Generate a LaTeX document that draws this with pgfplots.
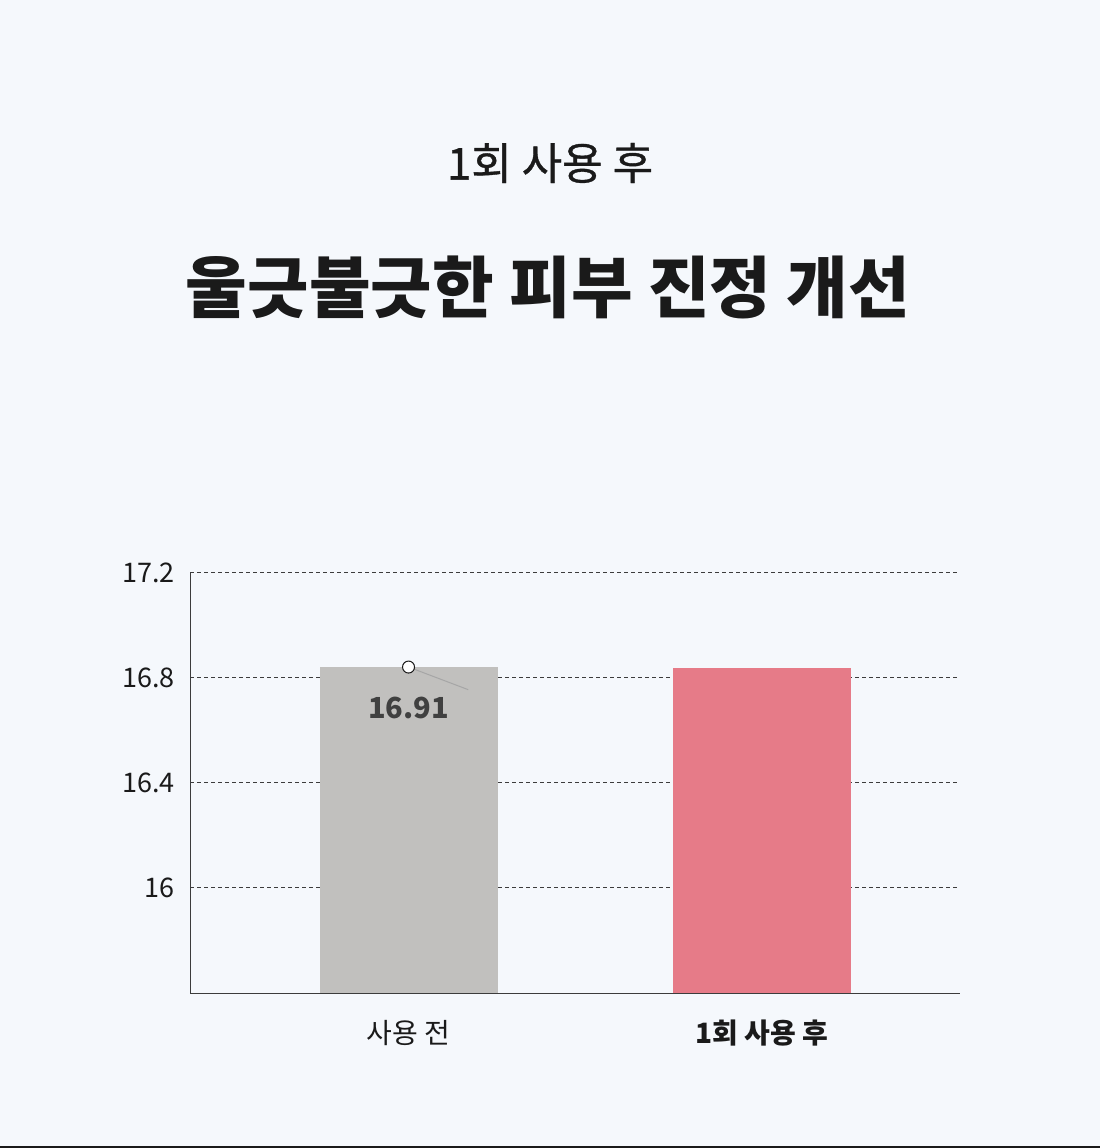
\documentclass[border=0pt]{standalone}
\usepackage{fontspec}
\setmainfont{Noto Sans CJK KR}
\usepackage{pgfplots}
\pgfplotsset{compat=1.18}
\definecolor{bgc}{HTML}{F5F8FC}
\definecolor{barA}{HTML}{C1C0BE}
\definecolor{barB}{HTML}{E67B88}
\definecolor{ink}{HTML}{1A1A1A}
\begin{document}
\begin{tikzpicture}
% page: 1100 x 1148 px at 0.5pt per px
\fill[bgc] (0,0) rectangle (550pt,-574pt);
\fill[ink] (0,-573pt) rectangle (550pt,-574pt);
\node[font=\fontsize{22}{24}\selectfont\addfontfeature{FakeBold=0.8}, text=ink] at (275pt,-81.5pt) {1회 사용 후};
\node[font=\fontsize{33.5}{36}\selectfont\bfseries, text=ink] at (274pt,-143.5pt) {울긋불긋한 피부 진정 개선};
\begin{axis}[
    at={(95pt,-496.5pt)}, anchor=south west,
    scale only axis,
    width=385pt, height=210.3pt,
    ybar, bar width=89pt, bar shift=0pt,
    xmin=-0.619, xmax=1.562,
    ymin=15.6, ymax=17.2,
    xtick={0,1},
    xticklabels={사용 전, {\bfseries 1회 사용 후}},
    ytick={16,16.4,16.8,17.2},
    axis lines=left,
    axis line style={draw=ink!85, line width=0.5pt, -},
    major tick length=0pt,
    ymajorgrids,
    grid style={dash pattern=on 2pt off 1.5pt, draw=ink!85, line width=0.4pt},
    /pgf/number format/assume math mode=true,
    yticklabel style={font=\fontsize{13.5}{15}\selectfont, text=ink, xshift=-4pt},
    xticklabel style={font=\fontsize{14}{16}\selectfont, text=ink, yshift=-10pt},
    clip=false,
]
\addplot[fill=barA, draw=none] coordinates {(0,16.84)};
\addplot[fill=barB, draw=none] coordinates {(1,16.835)};
\draw[gray!70, line width=0.5pt] (axis cs:0,16.84) -- (axis cs:0.169,16.754);
\addplot[only marks, mark=*, mark size=3pt, mark options={fill=white, draw=ink, line width=0.5pt}] coordinates {(0,16.84)};
\node[font=\fontsize{14.5}{16}\selectfont\bfseries, text=black!75] at (axis cs:0,16.686) {16.91};
\end{axis}
\end{tikzpicture}
\end{document}
